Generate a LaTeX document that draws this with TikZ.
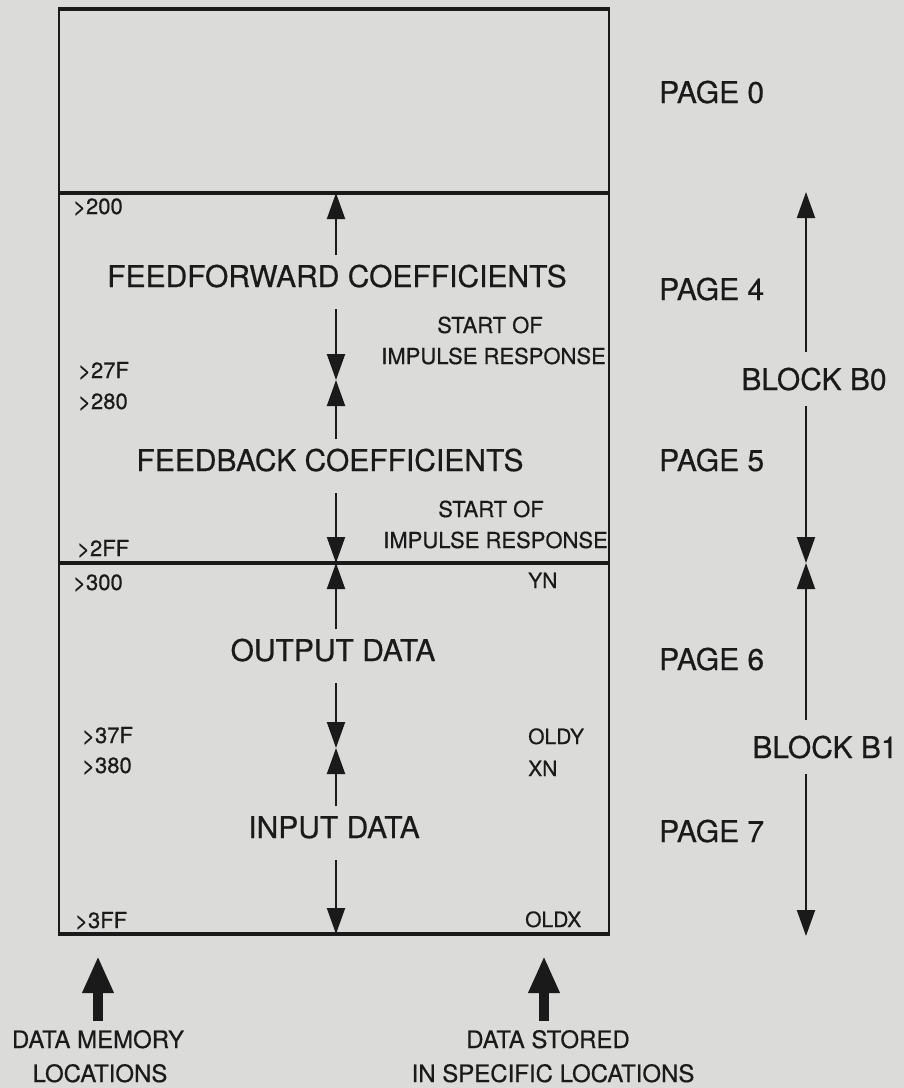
\documentclass[tikz,border=0pt]{standalone}
\usepackage{fontspec}
\setmainfont{TeX Gyre Heros}[FakeBold=0.5]
\usepackage{tikz}
\usetikzlibrary{arrows.meta,positioning,calc}
\definecolor{paper}{HTML}{DBDBD9}
\definecolor{ink}{HTML}{1A1A1A}
\tikzset{
  lbl/.style={text=ink, inner sep=0pt, anchor=base},
  big/.style={lbl, font=\fontsize{30}{36}\selectfont, text height=21.5pt, text depth=12pt, inner ysep=10pt},
  blk/.style={lbl, font=\fontsize{30}{36}\selectfont, text height=21.5pt, text depth=0pt, inner ysep=16pt},
  addr/.style={lbl, font=\fontsize{22}{26}\selectfont, anchor=base west},
  var/.style={lbl, font=\fontsize{21}{25}\selectfont, anchor=base west},
  note/.style={lbl, font=\fontsize{22}{26}\selectfont},
  foot/.style={lbl, font=\fontsize{24}{28}\selectfont, text height=17.2pt, inner ysep=10pt},
}

\begin{document}
\begin{tikzpicture}[x=1pt, y=-1pt,
  hline/.style={color=ink, line width=3.5pt},
  vline/.style={color=ink, line width=2.5pt},
  arr/.style={color=ink, line width=2pt, -{Triangle[length=26pt,width=18pt]}},
  fat/.style={color=ink, line width=10pt, -{Triangle[length=37pt,width=29pt]}}]
\fill[paper] (0,0) rectangle (904,1088);
\useasboundingbox (0,0) rectangle (904,1088);
% memory map
\draw[vline] (59,9) -- (59,934) (609,9) -- (609,934);
\foreach \y in {9,193,563,934}
  \draw[hline] (57.75,\y) -- (610.25,\y);
\coordinate (m0) at (336,193); \coordinate (m1) at (336,380); \coordinate (m2) at (336,563);
\coordinate (m3) at (336,748); \coordinate (m4) at (336,934);
\coordinate (r0) at (806,192); \coordinate (r1) at (806,563); \coordinate (r2) at (806,936);
\coordinate (t0) at (98,956); \coordinate (t1) at (544,956);
% region names
\node[big] (ff) at (337,287) {FEEDFORWARD COEFFICIENTS};
\node[big] (fb) at (330,471) {FEEDBACK COEFFICIENTS};
\node[big] (od) at (333,661) {OUTPUT DATA};
\node[big] (id) at (334,838) {INPUT DATA};
\foreach \n/\y in {0/103,4/300,5/471,6/670,7/842}
  \node[big, anchor=base west] (p\n) at (659,\y) {PAGE \n};
\node[blk] (b0) at (814,390) {BLOCK B0};
\node[blk] (b1) at (825,758) {BLOCK B1};
% addresses and variables
\foreach \a/\x/\y in {200/73/214, 27F/78/378, 280/78/409, 2FF/77/556, 300/73/590, 37F/82/743, 380/82/773, 3FF/75/928}
  \node[addr] (a\a) at (\x,\y) {>\a};
\foreach \v/\x/\y in {YN/528/588, OLDY/528/744, XN/528/776, OLDX/525/927}
  \node[var] (v\v) at (\x,\y) {\v};
\node[note] (s1) at (490,333) {START OF};
\node[note, anchor=base east] (i1) at (606,364) {IMPULSE RESPONSE};
\node[note] (s2) at (491,517) {START OF};
\node[note, anchor=base east] (i2) at (608,548) {IMPULSE RESPONSE};
\node[foot] (dm) at (98,1048) {DATA MEMORY};
\node[foot] (dml) at (100,1082) {LOCATIONS};
\node[foot] (ds) at (548,1048) {DATA STORED};
\node[foot] (dsl) at (553,1082) {IN SPECIFIC LOCATIONS};
% extents
\draw[arr] (ff.north -| m0) -- (m0);
\draw[arr] (ff.south -| m1) -- (m1);
\draw[arr] (fb.north -| m1) -- (m1);
\draw[arr] (fb.south -| m2) -- (m2);
\draw[arr] (od.north -| m2) -- (m2);
\draw[arr] (od.south -| m3) -- (m3);
\draw[arr] (id.north -| m3) -- (m3);
\draw[arr] (id.south -| m4) -- (m4);
\draw[arr] (b0.north -| r0) -- (r0);
\draw[arr] (b0.south -| r1) -- (r1);
\draw[arr] (b1.north -| r1) -- (r1);
\draw[arr] (b1.south -| r2) -- (r2);
\draw[fat] (dm.north -| t0) -- (t0);
\draw[fat] (ds.north -| t1) -- (t1);
\end{tikzpicture}
\end{document}
